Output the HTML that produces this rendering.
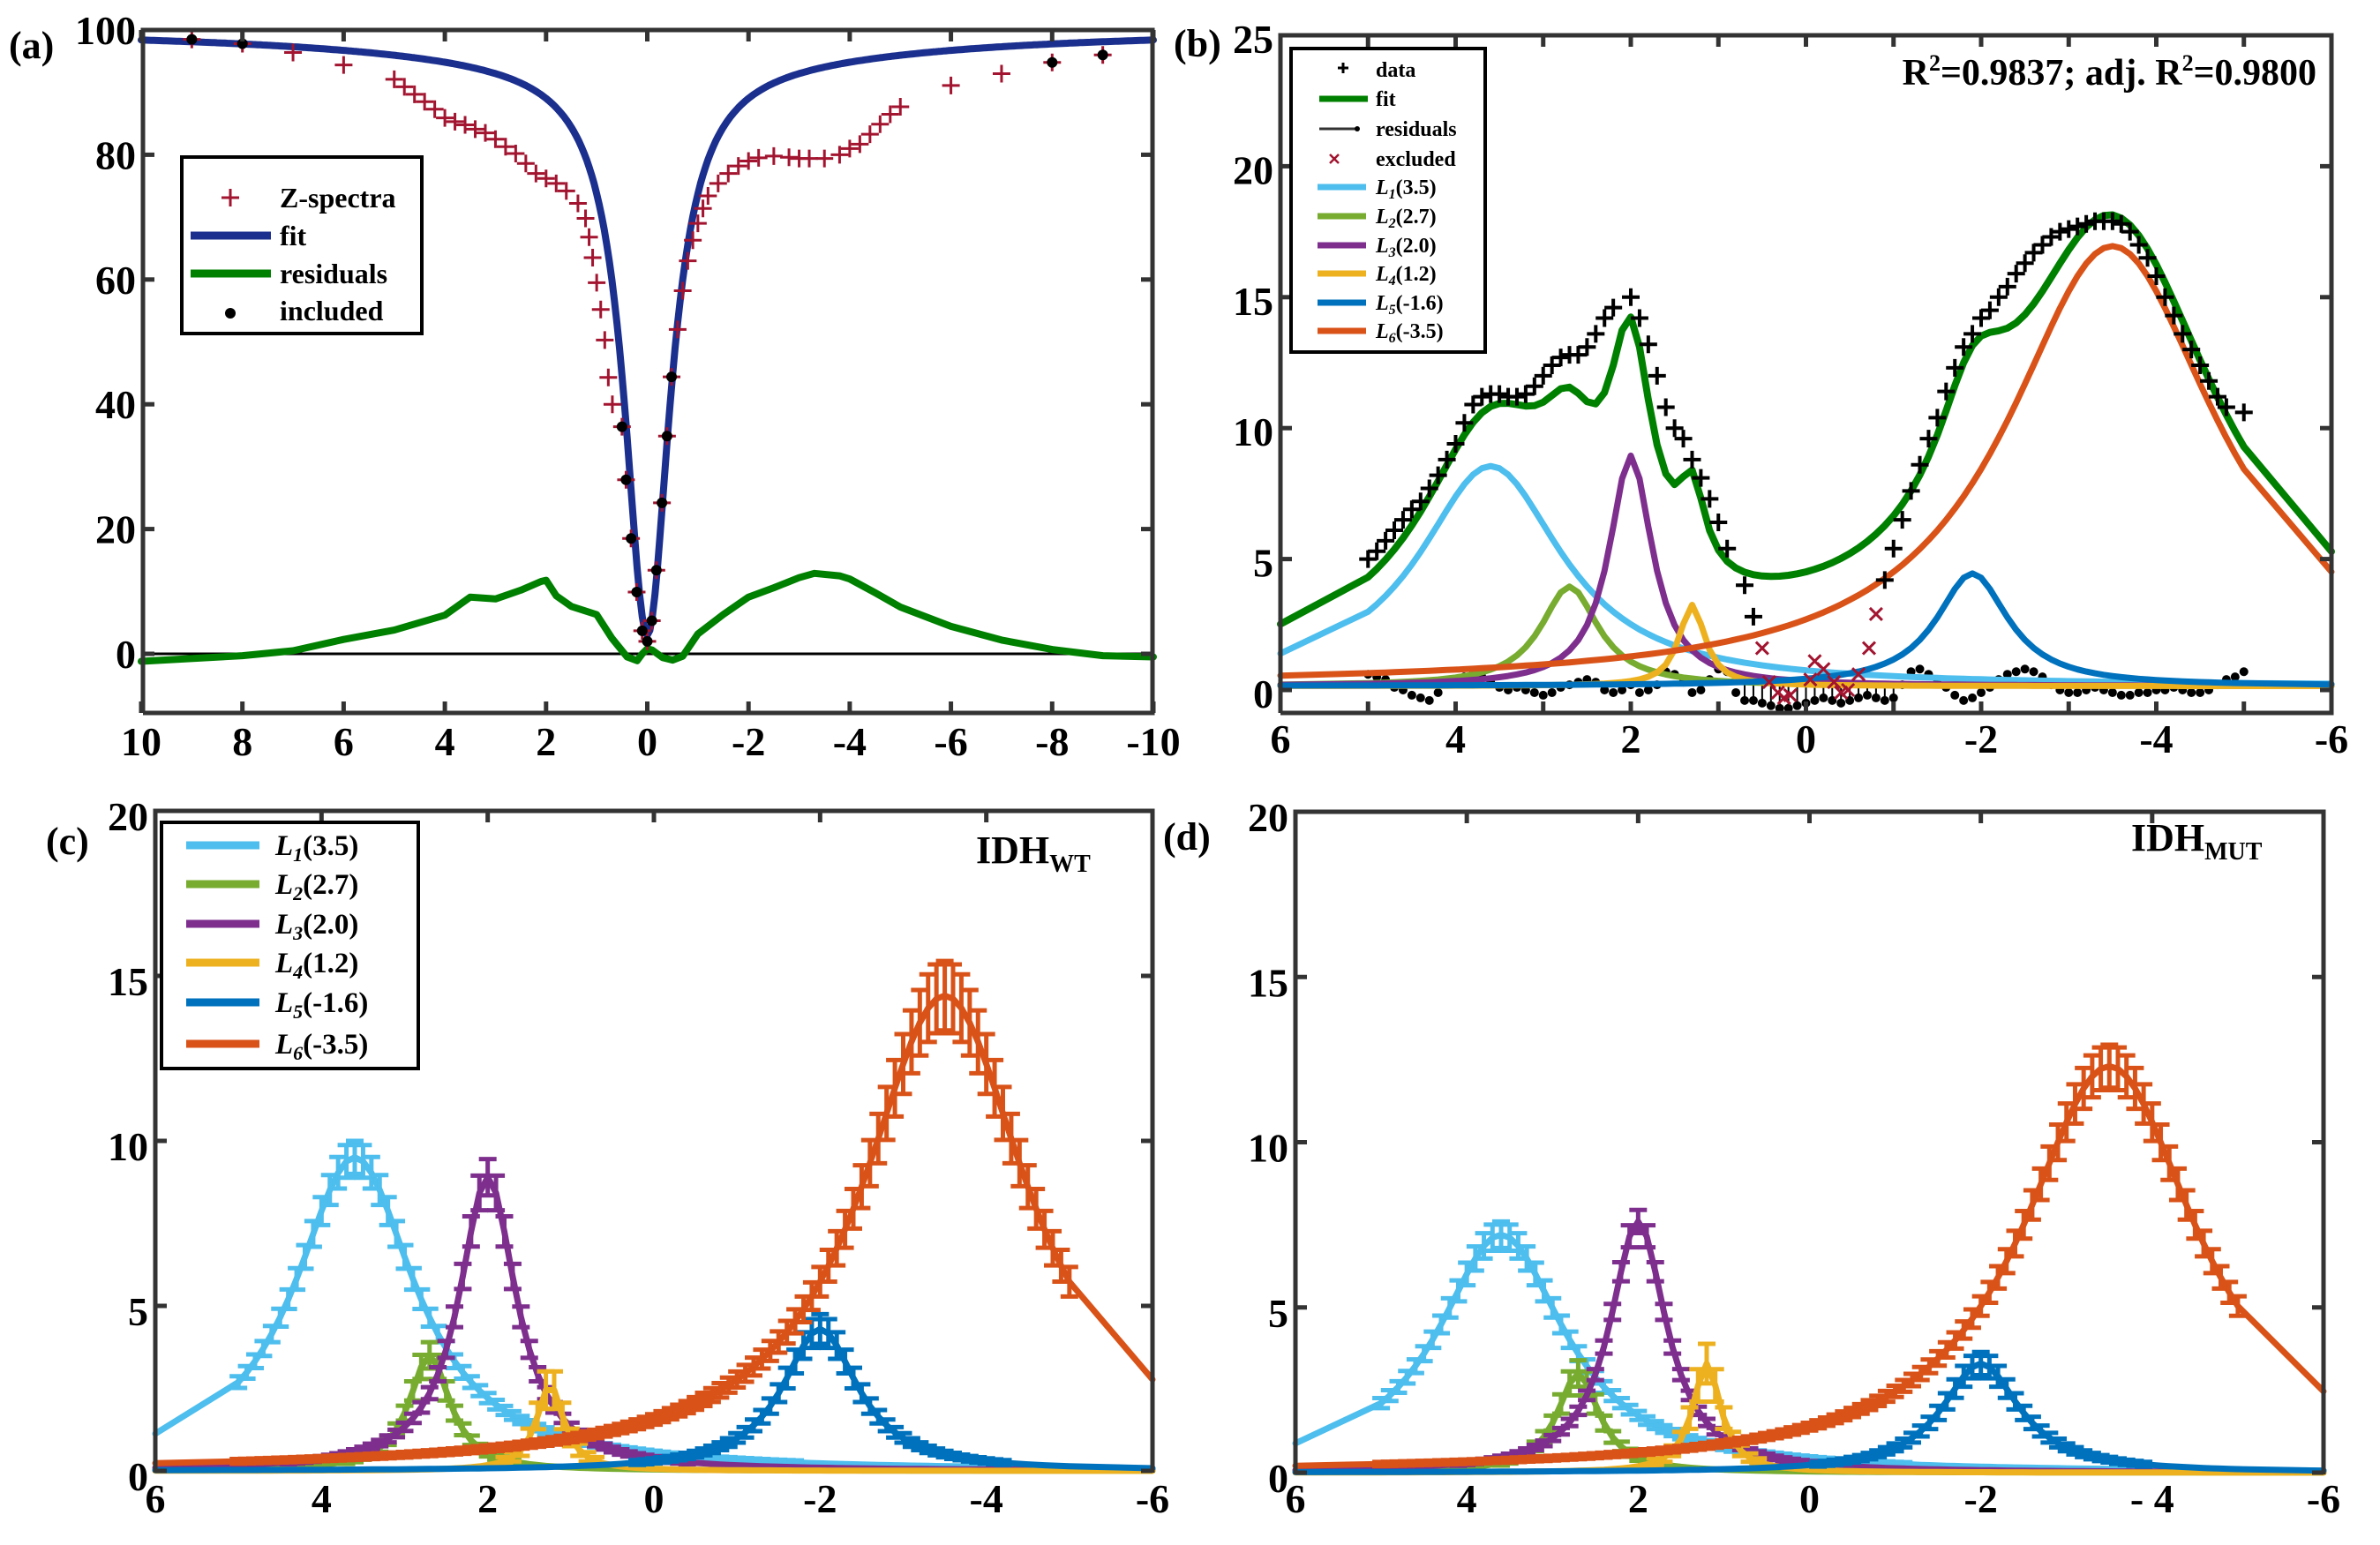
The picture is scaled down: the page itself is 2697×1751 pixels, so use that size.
<!DOCTYPE html>
<html><head><meta charset="utf-8"><style>
html,body{margin:0;padding:0;background:#fff}
svg{display:block}
text{font-family:"Liberation Serif",serif;font-weight:bold;fill:#000}
</style></head><body>
<svg id="fig" xmlns="http://www.w3.org/2000/svg" width="2697" height="1751" viewBox="0 0 2697 1751" font-family="Liberation Serif, serif" font-weight="bold">
<rect width="2697" height="1751" fill="#fff"/>
</svg>
<script>
// ---------- Panel (a) data ----------
const aZx=[9,8,7,6,5.0,4.8,4.6,4.4,4.2,4.0,3.8,3.6,3.4,3.2,3.0,2.8,2.6,2.4,2.2,2.0,1.8,1.6,1.37,1.22,1.15,1.08,1.0,0.92,0.84,0.77,0.69,0.5,0.42,0.32,0.21,0.1,0,-0.09,-0.18,-0.29,-0.39,-0.48,-0.6,-0.7,-0.8,-0.9,-1.0,-1.1,-1.2,-1.4,-1.6,-1.8,-2.0,-2.2,-2.5,-2.8,-3.0,-3.2,-3.5,-3.8,-4.0,-4.2,-4.4,-4.6,-4.8,-5.0,-6,-7,-8,-9];
const aZy=[98.5,97.8,96.4,94.4,92.1,90.9,89.7,88.5,87.3,85.9,85.3,84.8,84.1,83.5,82.5,81.3,80.2,78.6,77,76.2,75.4,74.2,72.2,69.8,66.8,63.5,59.5,55.2,50.3,44.3,40,36.4,27.9,18.5,9.9,3.7,2,5.3,13.4,24.2,34.9,44.4,52,58.2,63,66.3,69,71.4,73.4,75.4,77,78.2,79,79.5,79.8,79.6,79.4,79.4,79.4,80,81,81.7,83.3,84.9,86.5,87.7,91.1,93,94.8,96];
const aIncX=[9,8,0.5,0.42,0.32,0.21,0.1,0,-0.09,-0.18,-0.29,-0.39,-0.48,-8,-9];
const aIncY=[98.5,97.8,36.4,27.9,18.5,9.9,3.7,2,5.3,13.4,24.2,34.9,44.4,94.8,96];
const aFitAmp=[92,5];      // water, MT
const aFitHalfW=[0.55,6];
const aResX=[10,8,7,6,5,4,3.5,3,2.5,2.1,2.0,1.8,1.5,1.0,0.7,0.4,0.2,0.1,0,-0.1,-0.3,-0.5,-0.7,-1.0,-1.5,-2.0,-2.5,-3.0,-3.3,-3.8,-4.0,-4.5,-5,-6,-7,-8,-9,-10];
const aResY=[-1.2,-0.3,0.5,2.3,3.8,6.2,9.1,8.8,10.2,11.6,11.8,9.3,7.6,6.3,2.5,-0.5,-1.1,0,0.8,0.6,-0.6,-1.0,-0.4,3.2,6.3,9.1,10.6,12.2,12.9,12.5,12.0,9.8,7.5,4.4,2.2,0.7,-0.3,-0.5];
const aXTicks=[10,8,6,4,2,0,-2,-4,-6,-8,-10];
const aYTicks=[0,20,40,60,80,100];

// ---------- Panel (b) data ----------
const bNames=["L1(3.5)","L2(2.7)","L3(2.0)","L4(1.2)","L5(-1.6)","L6(-3.5)"];
const bCenters=[3.6,2.7,2.0,1.3,-1.9,-3.5];
const bAmps=[8.4,3.8,8.8,3.1,4.3,16.8];
const bHalfW=[1.0,0.4,0.3,0.18,0.5,1.48];
const bOffset=[0.15];
const bFitExtra=[0.6];
const bDataX=[5.0,4.9,4.8,4.7,4.6,4.5,4.4,4.3,4.2,4.1,4.0,3.9,3.8,3.7,3.6,3.5,3.4,3.3,3.2,3.1,3.0,2.9,2.8,2.7,2.6,2.5,2.4,2.3,2.2,2.0,1.9,1.8,1.7,1.6,1.5,1.4,1.3,1.2,1.1,1.0,0.9,0.7,0.6,-0.9,-1.0,-1.1,-1.2,-1.3,-1.4,-1.5,-1.6,-1.7,-1.8,-1.9,-2.0,-2.1,-2.2,-2.3,-2.4,-2.5,-2.6,-2.7,-2.8,-2.9,-3.0,-3.1,-3.2,-3.3,-3.4,-3.5,-3.6,-3.7,-3.8,-3.9,-4.0,-4.1,-4.2,-4.3,-4.4,-4.5,-4.6,-4.7,-4.8,-5.0];
const bDataY=[5.0,5.3,5.7,6.1,6.5,6.9,7.2,7.7,8.2,8.8,9.4,10.2,10.9,11.2,11.3,11.3,11.2,11.2,11.3,11.6,12.0,12.4,12.7,12.8,12.8,13.1,13.6,14.2,14.6,15.0,14.2,13.2,12.0,10.8,10.0,9.6,8.8,8.1,7.3,6.4,5.4,4.0,2.8,4.2,5.4,6.5,7.6,8.6,9.6,10.4,11.4,12.3,13.1,13.6,14.2,14.5,15.0,15.4,15.9,16.3,16.7,17.0,17.3,17.5,17.6,17.7,17.8,17.9,17.9,17.9,17.8,17.5,17.0,16.5,15.8,15.0,14.3,13.6,13.0,12.4,11.8,11.2,10.8,10.6];
const bExclX=[0.5,0.42,0.32,0.25,0.18,-0.05,-0.1,-0.2,-0.32,-0.4,-0.48,-0.6,-0.72,-0.8];
const bExclY=[1.6,0.3,-0.1,-0.3,-0.2,0.4,1.1,0.8,0.3,-0.1,0.0,0.6,1.6,2.9];
const bResX=[5,4.9,4.8,4.7,4.6,4.5,4.4,4.3,4.2,4.1,4.0,3.9,3.8,3.7,3.6,3.5,3.4,3.3,3.2,3.1,3.0,2.9,2.8,2.7,2.6,2.5,2.4,2.3,2.2,2.1,2.0,1.9,1.8,1.7,1.6,1.5,1.4,1.3,1.2,1.1,1.0,0.9,0.8,0.7,0.6,0.5,0.4,0.3,0.2,0.1,0,-0.1,-0.2,-0.3,-0.4,-0.5,-0.6,-0.7,-0.8,-0.9,-1.0,-1.1,-1.2,-1.3,-1.4,-1.5,-1.6,-1.7,-1.8,-1.9,-2.0,-2.1,-2.2,-2.3,-2.4,-2.5,-2.6,-2.7,-2.8,-2.9,-3.0,-3.1,-3.2,-3.3,-3.4,-3.5,-3.6,-3.7,-3.8,-3.9,-4.0,-4.1,-4.2,-4.3,-4.4,-4.5,-4.6,-4.7,-4.8,-4.9,-5.0];
const bResY=[0.4,0.3,0.2,-0.1,-0.2,-0.4,-0.5,-0.6,-0.3,0.1,0.2,0.3,0.4,0.3,0.1,-0.1,-0.2,-0.1,-0.2,-0.3,-0.4,-0.3,-0.1,0.0,0.1,0.2,0.1,-0.2,-0.3,-0.2,0.0,-0.3,-0.2,0.0,0.5,0.4,0.1,-0.3,-0.2,0.2,0.6,0.5,-0.3,-0.6,-0.6,-0.7,-0.8,-0.9,-0.9,-0.8,-0.7,-0.6,-0.5,-0.6,-0.7,-0.6,-0.5,-0.4,-0.5,-0.6,-0.5,0.0,0.5,0.6,0.4,0.2,-0.1,-0.4,-0.6,-0.5,-0.3,-0.1,0.2,0.4,0.5,0.6,0.5,0.3,0.0,-0.2,-0.3,-0.3,-0.2,-0.1,-0.2,-0.3,-0.4,-0.4,-0.3,-0.3,-0.2,-0.2,-0.1,-0.2,-0.3,-0.3,-0.2,0.0,0.2,0.3,0.5];
const bXTicks=[6,4,2,0,-2,-4,-6];
const bYTicks=[0,5,10,15,20,25];

// ---------- Panel (c) IDH WT ----------
const cCenters=[3.6,2.7,2.0,1.25,-2.0,-3.5];
const cAmps=[9.5,3.5,8.9,2.6,4.3,14.4];
const cHalfW=[0.88,0.3,0.42,0.2,0.55,1.22];
const cErr=[0.45,0.35,0.5,0.55,0.4,1.0];
// ---------- Panel (d) IDH MUT ----------
const dCenters=[3.6,2.7,2.0,1.2,-2.0,-3.5];
const dAmps=[7.2,3.0,7.6,3.3,3.3,12.3];
const dHalfW=[0.9,0.3,0.4,0.2,0.55,1.25];
const dErr=[0.35,0.35,0.3,0.55,0.3,0.6];
const cdXTicks=[6,4,2,0,-2,-4,-6];
const cdXLabels=["6","4","2","0","-2","-4","-6"];
const dXLabels=["6","4","2","0","-2","- 4","-6"];
const cdYTicks=[0,5,10,15,20];

const COLORS=["#4DBEEE","#77AC30","#7E2F8E","#EDB120","#0072BD","#D95319"];
const NS="http://www.w3.org/2000/svg";
const svg=document.getElementById('fig');

function el(tag,attrs,parent){const e=document.createElementNS(NS,tag);for(const k in attrs)e.setAttribute(k,attrs[k]);(parent||svg).appendChild(e);return e;}
function scale(p0,p1,v0,v1){return v=>p0+(v-v0)*(p1-p0)/(v1-v0);}
function lor(x,a,c,h){return a/(1+Math.pow((x-c)/h,2));}
function txt(parent,x,y,s,size,anchor,name){const t=el('text',{x:x,y:y,'font-size':size,'text-anchor':anchor||'start','font-family':'Liberation Serif, serif','font-weight':'bold'},parent);t.textContent=s;return t;}
function sampleXs(){const xs=[6];for(let i=0;i<=100;i++)xs.push(5-i*0.1);xs.push(-6);return xs;}

function frame(g,L,R,T,B,X,Y,xt,yt,xlabels,ylabels,opts){
  opts=opts||{};
  const fr=el('path',{d:`M${L},${B} L${L},${T} L${R},${T} L${R},${B}`+(opts.noBottom?'':` L${L},${B}`),fill:'none',stroke:'#333','stroke-width':5},g);
  
  
  (opts.minorX||xt).forEach(v=>{const x=X(v);
    if(!opts.noBottom){const t1=el('line',{x1:x,y1:B,x2:x,y2:B-13,stroke:'#333','stroke-width':5},g);}
    const t2=el('line',{x1:x,y1:T,x2:x,y2:T+13,stroke:'#333','stroke-width':5},g);});
  yt.forEach(v=>{const y=Y(v);
    const t1=el('line',{x1:L,y1:y,x2:L+13,y2:y,stroke:'#333','stroke-width':5},g);
    const t2=el('line',{x1:R,y1:y,x2:R-13,y2:y,stroke:'#333','stroke-width':5},g);});
  xt.forEach((v,i)=>txt(g,X(v),opts.xlBase,xlabels[i],opts.fs||46,'middle','x-tick-label'));
  yt.forEach((v,i)=>txt(g,L-8,Y(v)+opts.ylOff,ylabels[i],opts.fs||46,'end','y-tick-label'));
}
function poly(g,pts,color,w,name){const p=el('polyline',{points:pts.map(q=>q[0].toFixed(1)+','+q[1].toFixed(1)).join(' '),fill:'none',stroke:color,'stroke-width':w,'stroke-linejoin':'round','stroke-linecap':'round'},g);return p;}
function plus(g,x,y,s,color,w,name){const p=el('path',{d:`M${x-s},${y} L${x+s},${y} M${x},${y-s} L${x},${y+s}`,stroke:color,'stroke-width':w,fill:'none'},g);}
function cross(g,x,y,s,color,w,name){const p=el('path',{d:`M${x-s},${y-s} L${x+s},${y+s} M${x+s},${y-s} L${x-s},${y+s}`,stroke:color,'stroke-width':w,fill:'none'},g);}
function dot(g,x,y,r,name){const c=el('circle',{cx:x,cy:y,r:r,fill:'#000'},g);}

// ================= Panel (a) =================
(function(){
  const g=el('g',{});
  
  
  const L=162,R=1306,T=34,B=808;
  const X=scale(160,1307,10,-10), Y=scale(741,34,0,100);
  const zl=el('line',{x1:L,y1:Y(0),x2:R,y2:Y(0),stroke:'#000','stroke-width':3},g);
  
  
  poly(g,aResX.map((x,i)=>[X(x),Y(aResY[i])]),'#008000',8,'residuals-line');
  const fp=[];for(let i=0;i<=400;i++){const x=10-i*0.05;fp.push([X(x),Y(100-lor(x,aFitAmp[0],0,aFitHalfW[0])-lor(x,aFitAmp[1],0,aFitHalfW[1]))]);}
  poly(g,fp,'#1B2F8E',8,'fit-line');
  aZx.forEach((x,i)=>plus(g,X(x),Y(aZy[i]),10,'#A2142F',3,'z-spectra-point'));
  aIncX.forEach((x,i)=>dot(g,X(x),Y(aIncY[i]),6,'included-point'));
  frame(g,L,R,T,B,X,Y,aXTicks,aYTicks,aXTicks.map(String),aYTicks.map(String),{xlBase:856,ylOff:16,fs:46});
  txt(g,10,66,'(a)',44,'start','panel-label-a');
  const lg=el('g',{},g);
  
  
  const lb=el('rect',{x:206,y:178,width:272,height:200,fill:'#fff',stroke:'#000','stroke-width':4},lg);
  
  
  plus(lg,261,224,10,'#A2142F',3,'legend-z-spectra-marker');
  txt(lg,317,235,'Z-spectra',32,'start','legend-z-spectra');
  const l1=el('line',{x1:216,y1:267,x2:307,y2:267,stroke:'#1B2F8E','stroke-width':9},lg);
  txt(lg,317,278,'fit',32,'start','legend-fit');
  const l2=el('line',{x1:216,y1:310,x2:307,y2:310,stroke:'#008000','stroke-width':9},lg);
  txt(lg,317,321,'residuals',32,'start','legend-residuals');
  dot(lg,261,355,6,'legend-included-marker');
  txt(lg,317,363,'included',32,'start','legend-included');
})();

// ================= Panel (b) =================
(function(){
  const g=el('g',{});
  
  
  const L=1451,R=2642,T=40,B=808;
  const X=scale(1451,2642,6,-6), Y=scale(782,40,0,25);
  const xs=sampleXs();
  bResX.forEach((x,i)=>{const y=bResY[i]+0.2;
    if(x<=0.75&&x>=-1.15){const s=el('line',{x1:X(x),y1:Y(0.2),x2:X(x),y2:Y(y),stroke:'#000','stroke-width':2},g);}
    dot(g,X(x),Y(y),5,'residual-point');});
  bCenters.forEach((c,k)=>{poly(g,xs.map(x=>[X(x),Y(bOffset[0]+lor(x,bAmps[k],c,bHalfW[k]))]),COLORS[k],7,'component-'+(k+1)+'-line');});
  poly(g,xs.map(x=>{let s=bOffset[0]+bFitExtra[0];bCenters.forEach((c,k)=>s+=lor(x,bAmps[k],c,bHalfW[k]));return [X(x),Y(s)];}),'#008000',8,'fit-line');
  bDataX.forEach((x,i)=>plus(g,X(x),Y(bDataY[i]),10,'#000',4,'data-point'));
  bExclX.forEach((x,i)=>cross(g,X(x),Y(bExclY[i]),7,'#A2142F',3,'excluded-point'));
  const minor=[];for(let v=6;v>=-6;v--)minor.push(v);
  frame(g,L,R,T,B,X,Y,bXTicks,bYTicks,bXTicks.map(String),bYTicks.map(String),{xlBase:853,ylOff:20,fs:46,minorX:minor});
  txt(g,1330,64,'(b)',44,'start','panel-label-b');
  const r2=el('text',{x:2625,y:96,'font-size':42,'text-anchor':'end','font-family':'Liberation Serif, serif','font-weight':'bold'},g);
  
  
  r2.innerHTML='R<tspan font-size="26" dy="-16">2</tspan><tspan dy="16">=0.9837; adj. R</tspan><tspan font-size="26" dy="-16">2</tspan><tspan dy="16">=0.9800</tspan>';
  const lg=el('g',{},g);
  
  
  const lb=el('rect',{x:1463,y:55,width:220,height:344,fill:'#fff',stroke:'#000','stroke-width':4},lg);
  
  
  const rows=[79,112,146,180,212,245,278,310,343,375];
  plus(lg,1522,77,6,'#000',3,'legend-data-marker');
  txt(lg,1559,87,'data',24,'start','legend-data');
  const lf=el('line',{x1:1495,y1:112,x2:1550,y2:112,stroke:'#008000','stroke-width':7},lg);
  txt(lg,1559,120,'fit',24,'start','legend-fit');
  const lr=el('line',{x1:1495,y1:146,x2:1538,y2:146,stroke:'#333','stroke-width':3},lg);
  dot(lg,1538,146,3,'legend-residuals-marker');
  txt(lg,1559,154,'residuals',24,'start','legend-residuals');
  cross(lg,1512,180,5,'#A2142F',2.5,'legend-excluded-marker');
  txt(lg,1559,188,'excluded',24,'start','legend-excluded');
  bNames.forEach((n,k)=>{const y=rows[4+k];
    const ln=el('line',{x1:1493,y1:y,x2:1548,y2:y,stroke:COLORS[k],'stroke-width':7},lg);
    
    
    const t=el('text',{x:1559,y:y+8,'font-size':24,'font-family':'Liberation Serif, serif','font-weight':'bold'},lg);
    
    
    t.innerHTML='<tspan font-style="italic">L</tspan><tspan font-style="italic" font-size="16" dy="5">'+(k+1)+'</tspan><tspan dy="-5">'+n.slice(2)+'</tspan>';});
})();

// ================= Panels (c),(d) =================
function bottomPanel(id,L,R,T,B,y0,centers,amps,halfw,errs,xlabels,label,labelX,labelY,sub,subX,subY,legend){
  const g=el('g',{});
  
  
  const X=scale(L,R,6,-6), Y=scale(y0,T,0,20);
  const xs=sampleXs();
  centers.forEach((c,k)=>{
    const vals=xs.map(x=>lor(x,amps[k],c,halfw[k]));
    poly(g,xs.map((x,i)=>[X(x),Y(vals[i])]),COLORS[k],7,'component-'+(k+1)+'-line');
    xs.forEach((x,i)=>{if(i===0||i===xs.length-1)return;const v=vals[i];const e=errs[k]*v/amps[k]+0.05;
      if(v<0.25)return;
      const px=X(x),y1=Y(v-e),y2=Y(v+e);
      const eb=el('path',{d:`M${px},${y1} L${px},${y2} M${px-10},${y1} L${px+10},${y1} M${px-10},${y2} L${px+10},${y2}`,stroke:COLORS[k],'stroke-width':5,fill:'none'},g);
      
      });
  });
  frame(g,L,R,T,B,X,Y,cdXTicks,cdYTicks,xlabels,cdYTicks.map(String),{xlBase:1714,ylOff:22,fs:46,noBottom:true});
  txt(g,labelX,labelY,label,44,'start','panel-label-'+id);
  const it=el('text',{x:subX,y:subY,'font-size':44,'font-family':'Liberation Serif, serif','font-weight':'bold'},g);
  
  
  it.innerHTML='IDH<tspan font-size="28" dy="10">'+sub+'</tspan>';
  if(legend){
    const lg=el('g',{},g);
    
    
    const lb=el('rect',{x:183,y:932,width:291,height:279,fill:'#fff',stroke:'#000','stroke-width':4},lg);
    
    
    const rows=[958,1002,1047,1091,1136,1183];
    bNames.forEach((n,k)=>{const y=rows[k];
      const ln=el('line',{x1:211,y1:y,x2:294,y2:y,stroke:COLORS[k],'stroke-width':9},lg);
      
      
      const t=el('text',{x:312,y:y+11,'font-size':33,'font-family':'Liberation Serif, serif','font-weight':'bold'},lg);
      
      
      t.innerHTML='<tspan font-style="italic">L</tspan><tspan font-style="italic" font-size="22" dy="7">'+(k+1)+'</tspan><tspan dy="-7">'+n.slice(2)+'</tspan>';});
  }
}
bottomPanel('c',176,1306,919,1669,1667,cCenters,cAmps,cHalfW,cErr,cdXLabels,'(c)',52,968,'WT',1106,978,true);
bottomPanel('d',1468,2633,920,1671,1669,dCenters,dAmps,dHalfW,dErr,dXLabels,'(d)',1318,963,'MUT',2415,964,false);
</script>
</body></html>
